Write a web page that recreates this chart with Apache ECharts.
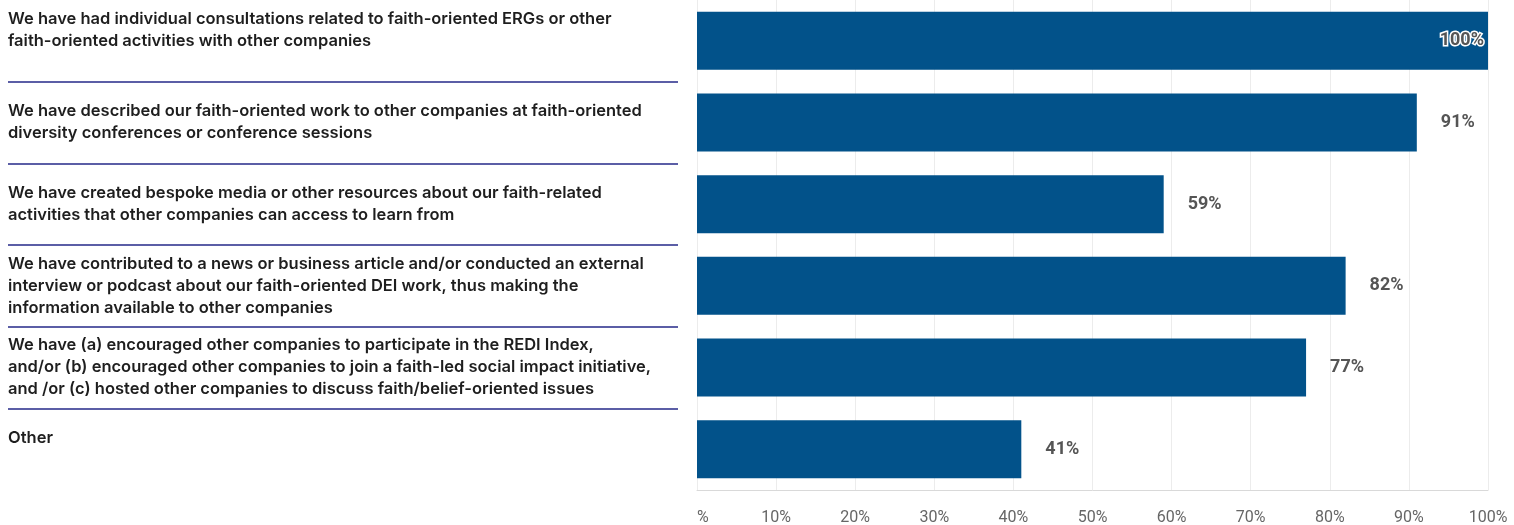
<!DOCTYPE html>
<html>
<head>
<meta charset="utf-8">
<script src="https://cdn.jsdelivr.net/npm/echarts@6/dist/echarts.min.js"></script>
<style>
html,body{margin:0;padding:0;background:#fff;}
#chart{width:1514px;height:525px;}
</style>
</head>
<body>
<div id="chart"></div>
<script>
const categories = [
  "We have had individual consultations related to faith-oriented ERGs or other\nfaith-oriented activities with other companies",
  "We have described our faith-oriented work to other companies at faith-oriented\ndiversity conferences or conference sessions",
  "We have created bespoke media or other resources about our faith-related\nactivities that other companies can access to learn from",
  "We have contributed to a news or business article and/or conducted an external\ninterview or podcast about our faith-oriented DEI work, thus making the\ninformation available to other companies",
  "We have (a) encouraged other companies to participate in the REDI Index,\nand/or (b) encouraged other companies to join a faith-led social impact initiative,\nand /or (c) hosted other companies to discuss faith/belief-oriented issues",
  "Other"
];
const values = [100, 91, 59, 82, 77, 41];
const tickLabels = ["%", "10%", "20%", "30%", "40%", "50%", "60%", "70%", "80%", "90%", "100%"];
const trailingBlankLines = [1, 0, 0, 0, 0, 1];

const chart = echarts.init(document.getElementById('chart'));
const barColor = '#02528a';

const seriesData = values.map((v) => {
  if (v >= 100) {
    return {
      value: v,
      label: {
        position: 'insideRight',
        distance: 4,
        color: '#555',
        textBorderColor: '#fff',
        textBorderWidth: 3
      }
    };
  }
  return v;
});

chart.setOption({
  animation: false,
  grid: [
    { left: 697, right: 26, top: 0, bottom: 35, outerBoundsMode: 'none', containLabel: false },
    { left: 8, width: 670, top: 0, bottom: 35, outerBoundsMode: 'none', containLabel: false }
  ],
  xAxis: [
    {
      type: 'value', gridIndex: 0, min: 0, max: 100, interval: 10,
      axisLine: { show: true, lineStyle: { color: '#d9d9d9', width: 1 } },
      axisTick: { show: false },
      splitLine: { show: true, lineStyle: { color: '#ececec', width: 1 } },
      axisLabel: {
        margin: 20, fontSize: 16, color: '#666', fontFamily: 'Roboto',
        alignMinLabel: 'left',
        formatter: (v) => tickLabels[Math.round(v / 10)]
      }
    },
    { type: 'value', gridIndex: 1, show: false, min: 0, max: 1 }
  ],
  yAxis: [
    {
      type: 'category', gridIndex: 0, inverse: true, data: categories,
      axisLine: { show: false }, axisTick: { show: false }, splitLine: { show: false },
      axisLabel: {
        align: 'left', margin: 689, fontSize: 16.5, lineHeight: 22, fontWeight: 600,
        color: '#1e1e1e', fontFamily: 'Inter',
        formatter: (v, i) => v + '\n'.repeat(trailingBlankLines[i] || 0)
      }
    },
    {
      type: 'category', gridIndex: 1, inverse: true, data: categories,
      axisLine: { show: false }, axisTick: { show: false }, axisLabel: { show: false },
      splitLine: { show: true, showMinLine: false, showMaxLine: false, lineStyle: { color: '#5b5ea6', width: 2 } }
    }
  ],
  series: [
    {
      type: 'bar', xAxisIndex: 0, yAxisIndex: 0, data: seriesData,
      barCategoryGap: '29%',
      itemStyle: { color: barColor },
      label: {
        show: true, position: 'right', distance: 24,
        formatter: '{c}%', fontSize: 18, fontWeight: 'bold', color: '#555', fontFamily: 'Roboto'
      }
    }
  ]
});
</script>
</body>
</html>
